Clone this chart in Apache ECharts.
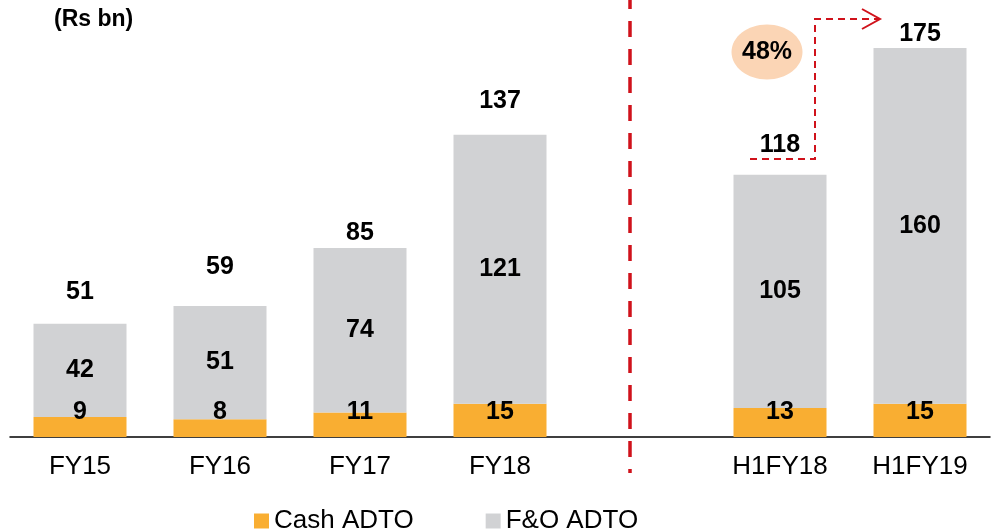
<!DOCTYPE html>
<html><head><meta charset="utf-8">
<script src="https://cdn.jsdelivr.net/npm/echarts@6/dist/echarts.min.js"></script>
<style>html,body{margin:0;padding:0;background:#fff}#c{width:991px;height:531px}</style>
</head><body><div id="c"></div>
<script>
const categories = ['FY15', 'FY16', 'FY17', 'FY18', '', 'H1FY18', 'H1FY19'];
const cashADTO = [9, 8, 11, 15, null, 13, 15];
const foADTO = [42, 51, 74, 121, null, 105, 160];
const totals = [51, 59, 85, 137, null, 118, 175];
const growthLabel = '48%';
const unitLabel = '(Rs bn)';

const totalLabelDist = [19, 26, 3, 21, 0, 17, 2];
const FONT = '"Liberation Sans", Arial, sans-serif';
const LBL = 25;
const chart = echarts.init(document.getElementById('c'));

const opt = {
  animation: false,
  textStyle: { fontFamily: FONT },
  grid: { left: 10, right: 1, top: 37, bottom: 94 },
  legend: {
    top: 503, left: 249, itemWidth: 15, itemHeight: 15, itemGap: 72, icon: 'rect',
    textStyle: { fontSize: 26, color: '#000', fontFamily: FONT },
    data: ['Cash ADTO', 'F&O ADTO']
  },
  xAxis: {
    type: 'category', data: categories,
    axisLine: { lineStyle: { color: '#000', width: 1.5 } },
    axisTick: { show: false },
    axisLabel: { fontSize: 26, color: '#000', margin: 17, fontFamily: FONT }
  },
  yAxis: { type: 'value', min: 0, max: 180, show: false, splitLine: { show: false } },
  series: [
    {
      name: 'Cash ADTO', type: 'bar', stack: 't', barWidth: 93,
      itemStyle: { color: '#F9AE32' },
      label: { show: true, position: 'insideBottom', distance: 12, fontSize: LBL, fontWeight: 'bold', color: '#000', fontFamily: FONT },
      data: cashADTO
    },
    {
      name: 'F&O ADTO', type: 'bar', stack: 't', barWidth: 93,
      itemStyle: { color: '#D1D2D4' },
      label: { show: true, position: 'inside', fontSize: LBL, fontWeight: 'bold', color: '#000', fontFamily: FONT },
      data: foADTO
    },
    {
      name: 'total', type: 'bar', stack: 't', barWidth: 93,
      itemStyle: { color: 'transparent' },
      data: totals.map((v, i) => v == null ? null : ({
        value: 0.0001,
        label: { show: true, position: 'top', distance: totalLabelDist[i], formatter: String(v), fontSize: LBL, fontWeight: 'bold', color: '#000', fontFamily: FONT }
      }))
    }
  ]
};
chart.setOption(opt);

const px = (i, v) => chart.convertToPixel({ xAxisIndex: 0, yAxisIndex: 0 }, [i, v]);
const gapX = px(4, 0)[0] - 10;
const a0 = px(5, totals[5]);
const a1 = px(6, totals[6]);
const red = '#D0121B';
const yLow = 159, yHigh = 19;
const xLeft = a0[0] - 30, xMid = a0[0] + 35, xEnd = a1[0] - 40;
chart.setOption({
  graphic: [
    { type: 'line', shape: { x1: gapX, y1: 0, x2: gapX, y2: 473 }, style: { stroke: red, lineWidth: 3.5, lineDash: [16, 12], lineDashOffset: 7 } },
    { type: 'polyline', shape: { points: [[xLeft, yLow], [xMid, yLow], [xMid, yHigh], [xEnd, yHigh]] }, style: { stroke: red, lineWidth: 2, lineDash: [7, 5], fill: null } },
    { type: 'polyline', shape: { points: [[xEnd - 18, yHigh - 10], [xEnd, yHigh], [xEnd - 18, yHigh + 10]] }, style: { stroke: red, lineWidth: 2, fill: null } },
    { type: 'ellipse', shape: { cx: 767, cy: 52, rx: 35.5, ry: 27.5 }, style: { fill: '#FBD5B5' } },
    { type: 'text', x: 767, y: 52, style: { text: growthLabel, fontSize: 25, fontWeight: 'bold', fill: '#000', align: 'center', verticalAlign: 'middle', fontFamily: FONT } },
    { type: 'text', x: 54, y: 20, style: { text: unitLabel, fontSize: 23, fontWeight: 'bold', fill: '#000', align: 'left', verticalAlign: 'middle', fontFamily: FONT } }
  ]
});
</script></body></html>
